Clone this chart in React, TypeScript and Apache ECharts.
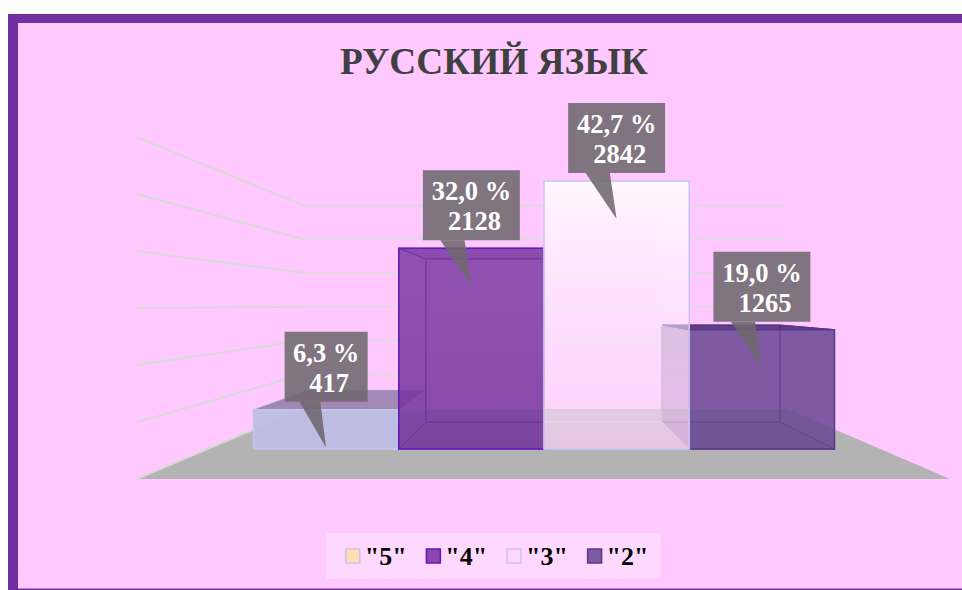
import React, { useEffect, useRef } from "react";
import * as echarts from "echarts";

const TITLE = "РУССКИЙ ЯЗЫК";
const CATEGORIES = ['"5"', '"4"', '"3"', '"2"'];
const VALUES = [417, 2128, 2842, 1265];
const PERCENTS = ["6,3 %", "32,0 %", "42,7 %", "19,0 %"];
const TICKS = [0, 500, 1000, 1500, 2000, 2500, 3000];
const DRAW_ORDER = [0, 1, 3, 2];

const SERIF = '"Liberation Serif", "Times New Roman", serif';
const VP = { x: 544, y: 305 };
const K_BACK = 0.813;
const K_WALL = 0.715;
const K_FLOOR = 1.208;
const ROOM = { frontLeft: 137, frontRight: 950, backLeft: 304, backRight: 785 };

const FACE_STYLES = [
  {
    legend: "#FFDFB0", border: "#C8C4EE", stroke: "rgba(200,196,238,0.4)",
    front: ["rgba(190,190,228,0.94)", "rgba(190,190,228,0.94)", "rgba(190,190,228,0.94)"],
    sideL: "rgba(190,190,228,0.25)", sideR: "rgba(190,190,228,0.25)", top: "rgba(95,85,125,0.55)",
    back: "rgba(190,190,228,0.1)", bottom: "rgba(190,190,228,0.1)",
  },
  {
    legend: "#8A47AD", border: "#6518BE", stroke: "#6F24B4",
    front: ["rgba(122,56,162,0.8)", "rgba(120,54,160,0.82)", "rgba(116,52,158,0.84)"],
    sideL: "rgba(110,40,150,0.12)", sideR: "rgba(110,40,150,0.12)", top: "rgba(90,30,130,0.25)",
    back: "rgba(110,40,150,0.1)", bottom: "rgba(70,20,120,0.15)",
  },
  {
    legend: "#FFD6FF", border: "#C8C4EE", stroke: "rgba(235,225,245,0.45)",
    front: ["rgba(255,252,255,0.88)", "rgba(255,240,255,0.5)", "rgba(252,205,248,0.68)"],
    sideL: "rgba(255,255,255,0.06)", sideR: "rgba(255,255,255,0.1)", top: "rgba(255,255,255,0.1)",
    back: "rgba(255,255,255,0.05)", bottom: "rgba(255,255,255,0.05)",
  },
  {
    legend: "#7D5B9F", border: "#573A8C", stroke: "#573A8C",
    front: ["rgba(106,72,148,0.85)", "rgba(106,72,148,0.85)", "rgba(104,72,146,0.85)"],
    sideL: "rgba(85,50,120,0.42)", sideR: "rgba(100,70,140,0.08)", top: "rgba(70,40,110,0.85)",
    back: "rgba(100,70,140,0.06)", bottom: "rgba(80,50,120,0.2)",
  },
];

const project = (p: number[], k: number) => [VP.x + (p[0] - VP.x) * k, VP.y + (p[1] - VP.y) * k];
const yAt = (y: number, k: number) => VP.y + (y - VP.y) * k;

function poly(points: number[][], fill: any, stroke?: string, lineWidth = 1) {
  return { type: "polygon", shape: { points }, style: { fill, stroke: stroke || "none", lineWidth } };
}

function renderFloor(_p: any, api: any) {
  const y0 = api.coord([0, 0])[1];
  return poly(
    [
      [ROOM.frontLeft, yAt(y0, K_FLOOR)],
      [ROOM.frontRight, yAt(y0, K_FLOOR)],
      [ROOM.backRight, yAt(y0, K_WALL)],
      [ROOM.backLeft, yAt(y0, K_WALL)],
    ],
    "#B3B3B3"
  );
}

function renderWallLine(_p: any, api: any) {
  const y = api.coord([0, api.value(1)])[1];
  const back = yAt(y, K_WALL);
  const front = yAt(y, K_FLOOR);
  return {
    type: "group",
    children: [
      {
        type: "polyline",
        shape: { points: [[ROOM.frontLeft, front], [ROOM.backLeft, back]] },
        style: { fill: "none", stroke: "#D9D8D6", lineWidth: 2 },
      },
      {
        type: "polyline",
        shape: { points: [[ROOM.backLeft, back], [ROOM.backRight, back]] },
        style: { fill: "none", stroke: "#E2D8E0", lineWidth: 2 },
      },
    ],
  };
}

function renderBar(idx: number) {
  const s = FACE_STYLES[idx];
  return (params: any, api: any) => {
    const cat = api.value(0);
    const val = api.value(1);
    const top = api.coord([cat, val]);
    const base = api.coord([cat, 0]);
    const size = api.size([1, 0]);
    const l = base[0] - size[0] / 2;
    const r = base[0] + size[0] / 2;
    const ftl = [l, top[1]], ftr = [r, top[1]], fbl = [l, base[1]], fbr = [r, base[1]];
    const btl = project(ftl, K_BACK), btr = project(ftr, K_BACK);
    const bbl = project(fbl, K_BACK), bbr = project(fbr, K_BACK);
    const grad = new echarts.graphic.LinearGradient(0, 0, 0, 1, [
      { offset: 0, color: s.front[0] },
      { offset: 0.55, color: s.front[1] },
      { offset: 1, color: s.front[2] },
    ]);
    return {
      type: "group",
      children: [
        poly([btl, btr, bbr, bbl], s.back, s.stroke),
        poly([fbl, fbr, bbr, bbl], s.bottom, s.stroke),
        poly([ftl, btl, bbl, fbl], s.sideL, s.stroke),
        poly([ftr, btr, bbr, fbr], s.sideR, s.stroke),
        poly([ftl, ftr, btr, btl], s.top, s.stroke),
        poly([ftl, ftr, fbr, fbl], grad, s.border, 1.5),
      ],
    };
  };
}

function renderCallout(_p: any, api: any) {
  const cat = api.value(0);
  const pt = api.coord([cat, api.value(1)]);
  const label = PERCENTS[cat];
  const w = label.length > 5 ? 97 : 83;
  const tipX = pt[0];
  const tipY = pt[1] + 38;
  const boxBottom = tipY - 46;
  const boxTop = tipY - 116;
  const fill = "rgba(112,104,112,0.88)";
  const text = (t: string, x: number, y: number) => ({
    type: "text",
    style: {
      text: t, x, y, fill: "#FFFFFF", align: "center", verticalAlign: "middle",
      font: `bold 26.5px ${SERIF}`,
    },
  });
  return {
    type: "group",
    children: [
      {
        type: "rect",
        shape: { x: tipX - w / 2, y: boxTop, width: w, height: boxBottom - boxTop },
        style: { fill },
      },
      poly(
        [[tipX - w * 0.32, boxBottom], [tipX - w * 0.07, boxBottom], [tipX, tipY]],
        fill
      ),
      text(label, tipX, boxTop + 21),
      text(String(VALUES[cat]), tipX + 3, boxTop + 51),
    ],
  };
}

export default function App() {
  const ref = useRef<HTMLDivElement>(null);
  useEffect(() => {
    const chart = echarts.init(ref.current!, null, { renderer: "svg" });
    chart.setOption({
      animation: false,
      backgroundColor: "#FFFFFF",
      title: {
        text: TITLE,
        left: 489,
        top: 38,
        textAlign: "center",
        textStyle: { fontFamily: SERIF, fontWeight: "bold", fontSize: 37.3, color: "#404040" },
      },
      grid: { left: 253.5, right: 127.5, top: 166, bottom: 141 },
      xAxis: { type: "category", data: CATEGORIES, show: false },
      yAxis: { type: "value", min: 0, max: 3000, interval: 500, show: false },
      legend: {
        left: 326,
        top: 533,
        padding: [10, 12, 10, 19],
        backgroundColor: "rgba(255,255,255,0.3)",
        itemWidth: 14,
        itemHeight: 14,
        itemGap: 19,
        selectedMode: false,
        textStyle: { fontFamily: SERIF, fontWeight: "bold", fontSize: 26, color: "#000000" },
        data: CATEGORIES.map((name, i) => ({
          name,
          icon: "rect",
          itemStyle: { color: FACE_STYLES[i].legend, borderColor: FACE_STYLES[i].border, borderWidth: 1.5 },
        })),
      },
      graphic: [
        { type: "rect", silent: true, z: -10, shape: { x: 8, y: 14, width: 954, height: 576 }, style: { fill: "#7030A0" } },
        { type: "rect", silent: true, z: -9, shape: { x: 18, y: 23, width: 944, height: 565.5 }, style: { fill: "#FFC8FF" } },
      ],
      series: [
        { type: "custom", name: "floor", renderItem: renderFloor, data: [[0, 0]], silent: true },
        { type: "custom", name: "walls", renderItem: renderWallLine, data: TICKS.map((t) => [0, t]), silent: true },
        ...DRAW_ORDER.map((i) => ({
          type: "custom",
          name: CATEGORIES[i],
          renderItem: renderBar(i),
          data: [[i, VALUES[i]]],
          itemStyle: { color: FACE_STYLES[i].legend },
          silent: true,
        })),
        {
          type: "custom",
          name: "callouts",
          renderItem: renderCallout,
          data: VALUES.map((v, i) => [i, v]),
          silent: true,
        },
      ],
    });
    return () => chart.dispose();
  }, []);
  return <div ref={ref} style={{ position: "absolute", left: 0, top: 0, width: 962, height: 590 }} />;
}
